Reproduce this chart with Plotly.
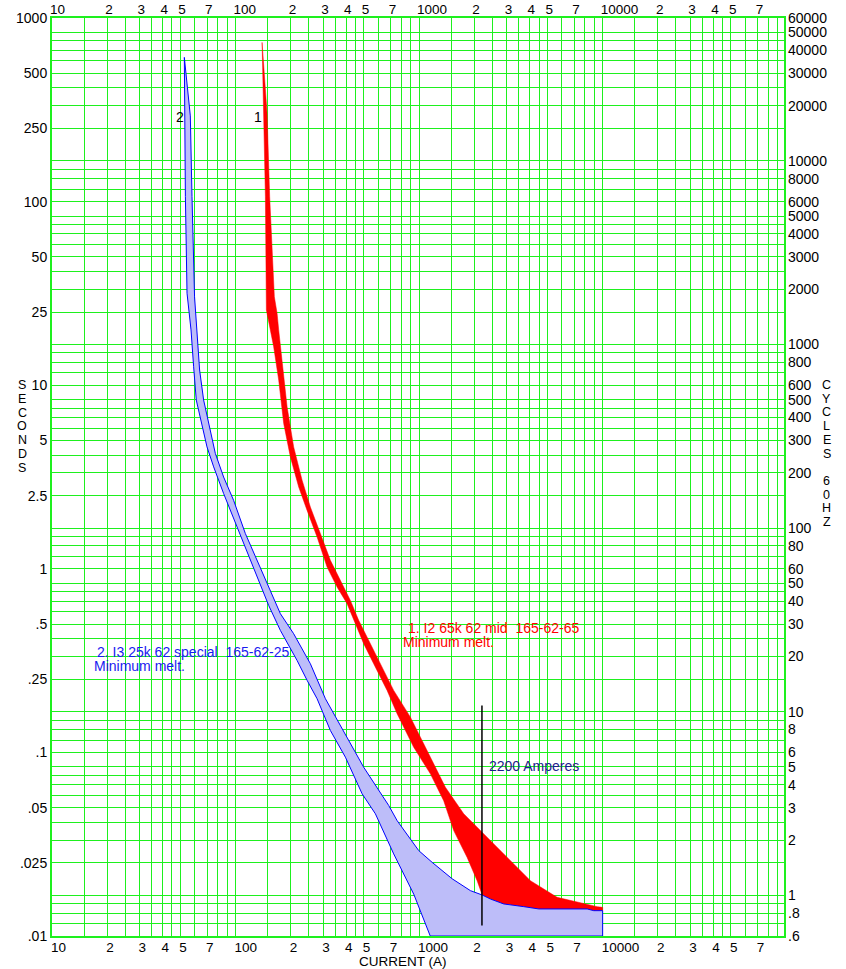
import math
import plotly.graph_objects as go

# ---------------- data (amperes, seconds) ----------------
# Curve 2: I3 25k 62 special 165-62-25 (minimum melt band)
blue_left_amps = [52.6, 52.8, 53.3, 54.4, 57.2, 59.1, 61.1, 69.9, 76.0, 86.1, 101.9, 117.9,
                  133.6, 151.5, 175.4, 216.3, 245.3, 278.1, 328.6, 396.7, 489.2, 578, 727,
                  935, 1150, 10000]
blue_left_secs = [610, 291, 106.5, 31.7, 20.0, 12.6, 8.3, 4.61, 3.59, 2.57, 1.69, 1.16,
                  0.866, 0.632, 0.462, 0.317, 0.247, 0.196, 0.1316, 0.0942, 0.0595, 0.0463,
                  0.0280, 0.0169, 0.01, 0.01]
blue_right_amps = [52.6, 56.7, 57.9, 59.8, 61.7, 63.7, 67.0, 71.4, 77.6, 86.1, 97.6, 113.1,
                   131, 151.5, 175.4, 207.3, 255.6, 308.7, 328.6, 449.6, 499, 683, 759, 995,
                   1177, 1513, 1904, 2205, 2447, 2891, 3716, 4486, 8233, 8943, 10000]
blue_right_secs = [610, 293, 106.5, 30.3, 20.0, 12.1, 8.3, 6.19, 4.25, 3.16, 2.36, 1.556,
                   1.112, 0.796, 0.570, 0.443, 0.304, 0.196, 0.173, 0.100, 0.083, 0.0514,
                   0.0425, 0.0292, 0.0252, 0.0205, 0.01766, 0.01673, 0.0159, 0.01495,
                   0.01445, 0.01404, 0.01404, 0.01374, 0.01374]

# Curve 1: I2 65k 62 mid 165-62-65 (minimum melt band)
red_left_amps = [139.5, 142.3, 145.4, 147.2, 161.3, 171.8, 182.9, 198.9, 220.8, 245.3, 278.1,
                 315.1, 357.3, 405.1, 449.6, 499, 565.6, 669.3, 759, 934.6, 1152, 1361, 1544,
                 1827, 2071, 2205, 2447, 2891, 3716, 4486, 8233, 8943, 10000]
red_left_secs = [736, 303, 106.5, 25.7, 16.2, 10.66, 6.19, 4.07, 2.79, 2.08, 1.49, 1.023,
                 0.796, 0.646, 0.503, 0.391, 0.304, 0.2176, 0.1624, 0.1067, 0.0764, 0.0546,
                 0.0375, 0.0268, 0.0200, 0.01673, 0.0159, 0.01495, 0.01445, 0.01404, 0.01404,
                 0.01374, 0.01374]
red_right_amps = [139.5, 148.5, 153.4, 162.7, 168.4, 171.8, 179.2, 190.9, 207.3, 230.4, 255.6,
                  289.8, 328.6, 372.4, 422.3, 468.6, 531.3, 602.4, 727, 896.7, 1106, 1391,
                  1750, 2249, 3145, 4042, 5649, 7261, 9333, 10000]
red_right_secs = [736, 303, 106.5, 30.3, 24.6, 20.0, 13.15, 7.62, 4.61, 3.04, 2.17, 1.556,
                  1.112, 0.866, 0.673, 0.524, 0.407, 0.317, 0.2176, 0.1556, 0.1024, 0.0646,
                  0.0463, 0.036, 0.0257, 0.0200, 0.01624, 0.01525, 0.01445, 0.01432]

# 2200 A marker line
marker_amps = [2200, 2200]
marker_secs = [0.18, 0.0114]

# ticks
x_tick_vals = [10, 20, 30, 40, 50, 70, 100, 200, 300, 400, 500, 700, 1000, 2000, 3000, 4000,
               5000, 7000, 10000, 20000, 30000, 40000, 50000, 70000]
x_tick_text = ['10', '2', '3', '4', '5', '7', '100', '2', '3', '4', '5', '7', '1000', '2', '3',
               '4', '5', '7', '10000', '2', '3', '4', '5', '7']
sec_tick_vals = [1000, 500, 250, 100, 50, 25, 10, 5, 2.5, 1, 0.5, 0.25, 0.1, 0.05, 0.025, 0.01]
sec_tick_text = ['1000', '500', '250', '100', '50', '25', '10', '5', '2.5', '1', '.5', '.25',
                 '.1', '.05', '.025', '.01']
cyc_tick_vals = [60000, 50000, 40000, 30000, 20000, 10000, 8000, 6000, 5000, 4000, 3000, 2000,
                 1000, 800, 600, 500, 400, 300, 200, 100, 80, 60, 50, 40, 30, 20, 10, 8, 6, 5,
                 4, 3, 2, 1, 0.8, 0.6]
cyc_tick_text = ['60000', '50000', '40000', '30000', '20000', '10000', '8000', '6000', '5000',
                 '4000', '3000', '2000', '1000', '800', '600', '500', '400', '300', '200', '100',
                 '80', '60', '50', '40', '30', '20', '10', '8', '6', '5', '4', '3', '2', '1',
                 '.8', '.6']
grid_mults = [1, 1.5, 2, 2.5, 3, 3.5, 4, 4.5, 5, 6, 7, 8, 9]

# ---------------- styling ----------------
FONT = 'Liberation Sans, Arial, sans-serif'
GREEN = '#1ef01e'
X_MIN_LOG, X_MAX_LOG = 1.0, 4.988
Y_MIN_LOG, Y_MAX_LOG = -2.0, 3.0
CYC = 60.0  # cycles per second

x_grid = [m * 10 ** k for k in range(1, 5) for m in grid_mults]
cyc_grid = [m * 10 ** k for k in range(-1, 5) for m in grid_mults
            if 0.6 <= m * 10 ** k <= 60000]
sec_grid = [c / CYC for c in cyc_grid]

fig = go.Figure()

fig.add_trace(go.Scatter(
    x=red_left_amps + red_right_amps[::-1],
    y=red_left_secs + red_right_secs[::-1],
    mode='lines', fill='toself', fillcolor='#ff0000',
    line=dict(color='#ff0000', width=0.5),
    hoverinfo='skip', showlegend=False))

fig.add_trace(go.Scatter(
    x=blue_left_amps + blue_right_amps[::-1],
    y=blue_left_secs + blue_right_secs[::-1],
    mode='lines', fill='toself', fillcolor='#bdbdf9',
    line=dict(color='#0000ff', width=1),
    hoverinfo='skip', showlegend=False))

fig.add_trace(go.Scatter(
    x=marker_amps, y=marker_secs, mode='lines',
    line=dict(color='#000000', width=1.5),
    hoverinfo='skip', showlegend=False))

# empty trace so that the top (current) and right (cycles) axes are drawn
fig.add_trace(go.Scatter(x=[], y=[], xaxis='x2', yaxis='y2', mode='lines',
                         hoverinfo='skip', showlegend=False))

xtickfont = dict(family=FONT, size=13.5, color='#000000')
ytickfont = dict(family=FONT, size=14, color='#000000')

xcommon = dict(type='log', range=[X_MIN_LOG, X_MAX_LOG], tickmode='array',
               tickvals=x_tick_vals, ticktext=x_tick_text, ticks='', tickangle=0,
               ticklabelposition='outside right', ticklabelshift=-2,
               tickfont=xtickfont, zeroline=False, automargin=False)

fig.update_layout(
    width=846, height=969,
    template='none',
    paper_bgcolor='white', plot_bgcolor='white',
    margin=dict(l=52, r=62, t=18, b=33),
    xaxis=dict(**xcommon, ticklabelstandoff=-2,
               showgrid=True, gridcolor=GREEN, gridwidth=1,
               minor=dict(tickmode='array', tickvals=x_grid, showgrid=True,
                          gridcolor=GREEN, gridwidth=1, ticks=''),
               showline=True, linecolor=GREEN, linewidth=2, mirror=True,
               anchor='y'),
    xaxis2=dict(**xcommon, overlaying='x', side='top', anchor='y',
                showgrid=False, showline=False),
    yaxis=dict(type='log', range=[Y_MIN_LOG, Y_MAX_LOG], tickmode='array',
               tickvals=sec_tick_vals, ticktext=sec_tick_text, ticks='',
               tickfont=ytickfont, showgrid=True, gridcolor=GREEN, gridwidth=1,
               minor=dict(tickmode='array', tickvals=sec_grid, showgrid=True,
                          gridcolor=GREEN, gridwidth=1, ticks=''),
               zeroline=False,
               showline=True, linecolor=GREEN, linewidth=2, mirror=True,
               automargin=False, anchor='x'),
    yaxis2=dict(type='log',
                range=[math.log10(10 ** Y_MIN_LOG * CYC), math.log10(10 ** Y_MAX_LOG * CYC)],
                tickmode='array', tickvals=cyc_tick_vals, ticktext=cyc_tick_text,
                ticks='', tickfont=ytickfont, ticklabelstandoff=3,
                overlaying='y', side='right', anchor='x',
                showgrid=False, zeroline=False, showline=False, automargin=False),
)

ann = []
def txt(x, y, s, color='#000000', size=14, xanchor='left', xref='x', yref='y'):
    ann.append(dict(x=x, y=y, xref=xref, yref=yref, text=s, showarrow=False,
                    xanchor=xanchor, yanchor='middle',
                    font=dict(family=FONT, size=size, color=color)))

L = math.log10
txt(L(50), L(290), '2', xanchor='center')
txt(L(133), L(290), '1', xanchor='center')
txt(2.9297, -0.3224, '1. I2 65k 62 mid\u00a0\u00a0165-62-65', color='#ff0000')
txt(2.9025, -0.4009, 'Minimum melt.', color='#ff0000')
txt(1.2358, -0.4553, '2. I3 25k 62 special\u00a0\u00a0165-62-25', color='#1a1af0')
txt(1.2179, -0.5278, 'Minimum melt.', color='#1a1af0')
txt(3.3725, -1.0763, '2200 Amperes', color='#1c1c8c')

# axis titles
txt(0.4795, -0.0275, 'CURRENT (A)', size=13.5, xanchor='center', xref='paper', yref='paper')
for i, ch in enumerate('SECONDS'):
    txt(-0.0406, (936 - (385 + 13.8 * i)) / 918, ch, size=12.5, xanchor='center',
        xref='paper', yref='paper')
for i, ch in enumerate('CYCLES 60HZ'):
    if ch != ' ':
        txt(1.0583, (936 - (385 + 13.7 * i)) / 918, ch, size=12.5, xanchor='center',
            xref='paper', yref='paper')

fig.update_layout(annotations=ann)

fig.write_html('out.html', config={'displayModeBar': False},
               post_script="document.body.style.margin='0';")
